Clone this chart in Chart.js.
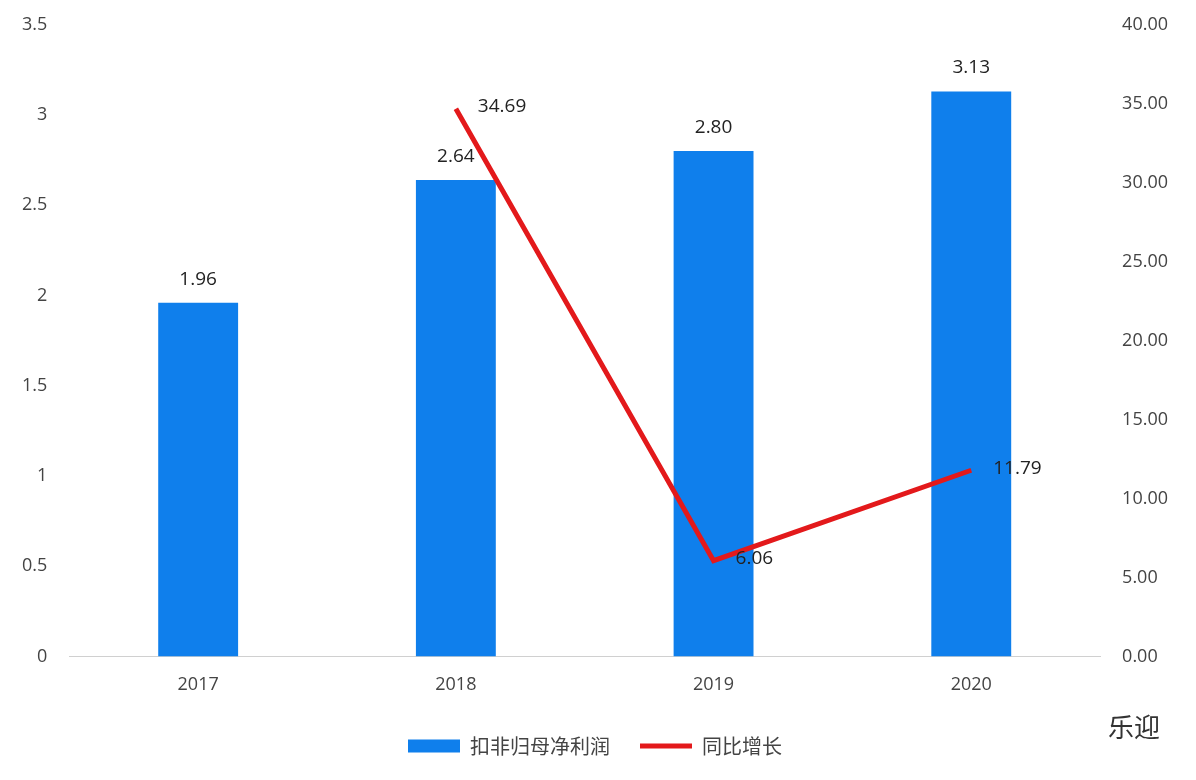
<!DOCTYPE html>
<html>
<head>
<meta charset="utf-8">
<script src="https://cdn.jsdelivr.net/npm/chart.js@4"></script>
<style>
  body { margin: 0; background: #fff; }
  #wrap { position: relative; width: 1196px; height: 780px; }
  #mark { position: absolute; right: 36px; bottom: 36px; font: 26px "Noto Sans CJK SC"; color: #333; }
</style>
</head>
<body>
<div id="wrap">
  <canvas id="chart" width="1196" height="780"></canvas>
  <div id="mark">乐迎</div>
</div>
<script>
const years = ['2017', '2018', '2019', '2020'];
const profit = [1.96, 2.64, 2.80, 3.13];
const growth = [null, 34.69, 6.06, 11.79];

// draws the value labels next to the bars and line points
const valueLabels = {
    id: 'valueLabels',
    afterDatasetsDraw(chart) {
        const ctx = chart.ctx;
        ctx.save();
        ctx.font = '19px "Open Sans", "Noto Sans"';
        ctx.fillStyle = '#222';
        chart.getDatasetMeta(0).data.forEach((bar, i) => {
            ctx.textAlign = 'center';
            ctx.textBaseline = 'bottom';
            ctx.fillText(profit[i].toFixed(2), bar.x, bar.y - 14);
        });
        chart.getDatasetMeta(1).data.forEach((pt, i) => {
            if (growth[i] === null) return;
            ctx.textAlign = 'left';
            ctx.textBaseline = 'middle';
            ctx.fillText(growth[i].toFixed(2), pt.x + 22, pt.y - 2);
        });
        ctx.restore();
    }
};

new Chart(document.getElementById('chart'), {
    data: {
        labels: years,
        datasets: [
            {
                type: 'bar',
                label: '扣非归母净利润',
                data: profit,
                backgroundColor: '#0f7fec',
                yAxisID: 'y',
                categoryPercentage: 1,
                barPercentage: 0.31,
                pointStyle: 'rect',
                order: 2
            },
            {
                type: 'line',
                label: '同比增长',
                data: growth,
                borderColor: '#e3191b',
                backgroundColor: '#e3191b',
                borderWidth: 5,
                pointRadius: 0,
                pointStyle: 'line',
                yAxisID: 'y1',
                order: 1
            }
        ]
    },
    options: {
        responsive: false,
        animation: false,
        layout: { padding: { left: 8, right: 14, top: 0, bottom: 14 } },
        plugins: {
            legend: {
                position: 'bottom',
                labels: {
                    sort: (a, b) => a.datasetIndex - b.datasetIndex,
                    usePointStyle: true,
                    pointStyleWidth: 52,
                    font: { size: 20, family: '"Noto Sans CJK SC"' },
                    color: '#444',
                    boxHeight: 13,
                    padding: 30
                }
            },
            tooltip: { enabled: false }
        },
        scales: {
            x: {
                grid: { display: false },
                border: { color: '#d0d0d0' },
                ticks: { font: { size: 18, family: '"Open Sans"' }, color: '#444', padding: 10 }
            },
            y: {
                position: 'left',
                min: 0, max: 3.5,
                grid: { display: false },
                border: { display: false },
                ticks: {
                    stepSize: 0.5,
                    font: { size: 18, family: '"Open Sans"' },
                    color: '#444',
                    padding: 14,
                    callback: v => String(v)
                }
            },
            y1: {
                position: 'right',
                min: 0, max: 40,
                grid: { display: false },
                border: { display: false },
                ticks: {
                    stepSize: 5,
                    font: { size: 18, family: '"Open Sans"' },
                    color: '#444',
                    padding: 14,
                    callback: v => v.toFixed(2)
                }
            }
        }
    },
    plugins: [valueLabels]
});
</script>
</body>
</html>
